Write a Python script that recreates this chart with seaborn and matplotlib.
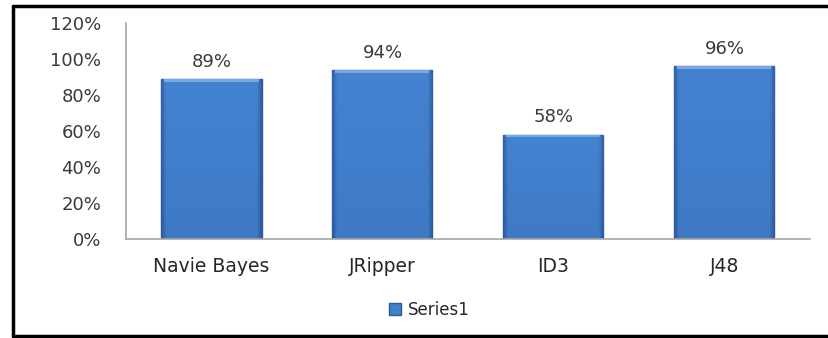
import numpy as np
import pandas as pd
import matplotlib
matplotlib.use("Agg")
import matplotlib.pyplot as plt
from matplotlib.lines import Line2D
from matplotlib.colors import to_rgb
import seaborn as sns

categories = ["Navie Bayes", "JRipper", "ID3", "J48"]
values = [89, 94, 58, 96]
series_name = "Series1"

df = pd.DataFrame({"classifier": categories, "accuracy": values})

sns.set_style("white")
plt.rcParams["font.family"] = ["DejaVu Sans"]

fig = plt.figure(figsize=(8.29, 3.38), dpi=100)
ax = fig.add_axes([0.152, 0.293, 0.825, 0.639])

sns.barplot(data=df, x="classifier", y="accuracy", color="#4280CE",
            width=0.585, edgecolor="#2C5B95", linewidth=1.0,
            saturation=1, label=series_name, ax=ax)

# bevel-like shading: flat face, darker thin sides, slightly darker toward the base
face = np.array(to_rgb("#4483D2"))
dark = np.array(to_rgb("#2D5C9C"))
n = 200
u = np.linspace(0, 1, n)
side = np.clip(1 - np.minimum(u, 1 - u) / 0.05, 0, 1)          # 1 at edges
vert = np.linspace(0.25, 0.0, n)                                 # bottom row first
mix = np.clip(side[None, :] * 0.9 + vert[:, None], 0, 1)
img = face * (1 - mix[..., None]) + dark * mix[..., None]
for p in list(ax.patches):
    x, w, h = p.get_x(), p.get_width(), p.get_height()
    im = ax.imshow(img, extent=(x, x + w, 0, h), origin="lower", aspect="auto",
                   zorder=p.get_zorder() + 0.1, interpolation="bilinear")
    im.set_clip_path(p)
    ax.add_patch(plt.Rectangle((x + w * 0.03, h - 1.6), w * 0.94, 1.6, color="#78A9E4",
                               zorder=p.get_zorder() + 0.2, linewidth=0))
ax.set_xlim(-0.5, len(categories) - 0.5)

for i, v in enumerate(values):
    ax.text(i, v + 4.5, f"{v}%", ha="center", va="bottom", fontsize=13, color="#3A3A3A")

ax.set_ylim(0, 120)
ax.set_yticks(range(0, 121, 20))
ax.set_yticklabels([f"{t}%" for t in range(0, 121, 20)])
ax.tick_params(axis="y", length=0, pad=18, labelsize=13, labelcolor="#3A3A3A")
ax.tick_params(axis="x", length=0, pad=13, labelsize=13.5, labelcolor="#262626")
ax.set_xlabel("")
ax.set_ylabel("")

for s in ["top", "right"]:
    ax.spines[s].set_visible(False)
for s in ["left", "bottom"]:
    ax.spines[s].set_color("#A6A6A6")
    ax.spines[s].set_linewidth(1.2)

ax.legend(loc="center", bbox_to_anchor=(0.518, 0.083), bbox_transform=fig.transFigure,
          frameon=False, fontsize=12, handlelength=0.7, handleheight=0.7,
          handletextpad=0.4)

# outer frame (left, top, bottom)
x0 = 13.5 / 829
yt = 1 - 5.5 / 338
yb = 1 - 335.5 / 338
for xs, ys in [([x0, x0], [yb, yt]), ([x0, 1.0], [yt, yt]), ([x0, 1.0], [yb, yb])]:
    fig.add_artist(Line2D(xs, ys, transform=fig.transFigure, color="black", linewidth=2.5))

fig.savefig("out.png", dpi=100)
